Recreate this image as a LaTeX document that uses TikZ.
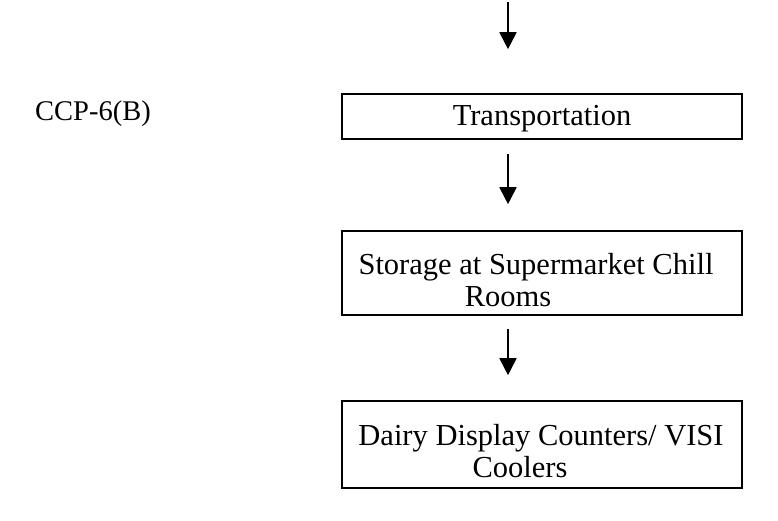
\documentclass[tikz,border=0pt]{standalone}
\usepackage{fontspec}
\setmainfont{Liberation Serif}
\usetikzlibrary{arrows.meta}
\begin{document}
\begin{tikzpicture}[x=1pt,y=1pt,
  flowbox/.style={draw, line width=1.6pt, minimum width=400pt, inner sep=0pt,
    align=center, font=\fontsize{30.5}{32}\selectfont},
  flowarrow/.style={line width=1.8pt, -{Triangle[width=17pt,length=17pt]}},
  sidelabel/.style={font=\fontsize{28.5}{33}\selectfont}]
\useasboundingbox (0,0) rectangle (778,521);

% process steps
\node[flowbox, minimum height=45pt] (transport) at (542,404.5)
  {\rule{0pt}{24pt}Transportation};
\node[sidelabel] (ccp) at (93,407) {CCP-6(B)};
\node[flowbox, minimum height=84pt] (storage) at (542,248)
  {\rule{0pt}{35pt}Storage at Supermarket Chill\hspace*{12pt}\\ Rooms\hspace*{68pt}};
\node[flowbox, minimum height=87pt] (display) at (542,76.5)
  {\rule{0pt}{35pt}Dairy Display Counters/ VISI\hspace*{2pt}\\ Coolers\hspace*{44pt}};

% flow arrows (offset left of the box centres)
\coordinate (incoming) at (508,519);
\draw[flowarrow, shorten >=44pt] (incoming) -- ([xshift=-34pt]transport.north);
\draw[flowarrow, shorten <=14pt, shorten >=26pt] ([xshift=-34pt]transport.south) -- ([xshift=-34pt]storage.north);
\draw[flowarrow, shorten <=13pt, shorten >=25pt] ([xshift=-34pt]storage.south) -- ([xshift=-34pt]display.north);
\end{tikzpicture}
\end{document}
